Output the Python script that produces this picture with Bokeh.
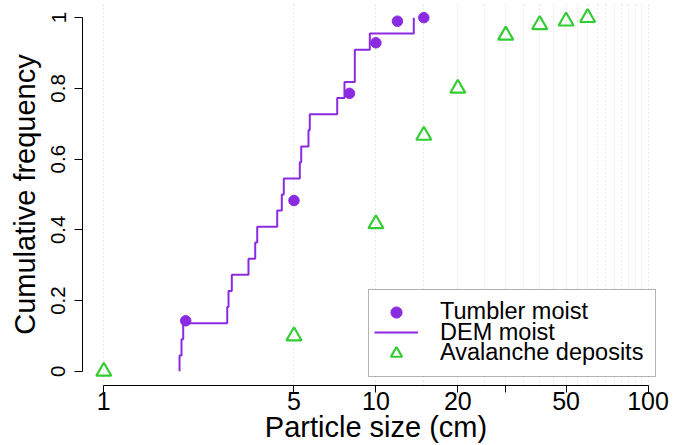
from bokeh.plotting import figure
from bokeh.models import Range1d, FixedTicker, Legend, BoxAnnotation
from bokeh.embed import file_html
from bokeh.resources import INLINE

# ---- data ----
tumbler_size = [2, 5, 8, 10, 12, 15]
tumbler_freq = [0.143, 0.483, 0.786, 0.929, 0.990, 1.0]

dem_size = [1.898, 1.898, 1.930, 1.958, 2.842, 2.873, 2.954, 3.402, 3.601, 3.663,
            4.338, 4.510, 4.587, 5.252, 5.315, 5.652, 5.715, 7.208, 7.665, 8.366,
            8.366, 9.497, 13.78]
dem_freq = [0.0, 0.045, 0.091, 0.136, 0.182, 0.227, 0.273, 0.318, 0.364, 0.409,
            0.455, 0.500, 0.545, 0.591, 0.636, 0.682, 0.727, 0.773, 0.818, 0.864,
            0.909, 0.955, 1.0]

aval_size = [1, 5, 10, 15, 20, 30, 40, 50, 60]
aval_freq = [0.0, 0.1, 0.417, 0.667, 0.8, 0.95, 0.98, 0.99, 1.0]

x_ticks = [1, 5, 10, 20, 30, 50, 100]
x_tick_labels = ["1", "5", "10", "20", "", "50", "100"]
y_ticks = [0, 0.2, 0.4, 0.6, 0.8, 1.0]
y_tick_labels = ["0", "0.2", "0.4", "0.6", "0.8", "1"]
grid_at = [1, 5, 10, 15, 20, 25, 30, 35, 40, 45, 50, 55, 60, 65, 70, 75, 80,
           85, 90, 95, 100]

names = ["Tumbler moist", "DEM moist", "Avalanche deposits"]
x_title = "Particle size (cm)"
y_title = "Cumulative frequency"
purple = "#8A2BE2"
green = "#32CD32"
FONT = "Liberation Sans"

p = figure(width=673, height=445, x_axis_type="log",
           output_backend="svg", toolbar_location=None,
           x_range=Range1d(10 ** -0.0783, 10 ** 2.079),
           y_range=Range1d(-0.04, 1.04),
           min_border_left=82, min_border_right=4,
           min_border_top=3, min_border_bottom=60)
p.outline_line_color = None
p.background_fill_color = "white"
p.border_fill_color = "white"

# grid
p.ygrid.grid_line_color = None
p.xgrid.ticker = FixedTicker(ticks=grid_at)
p.xgrid.grid_line_color = "#D3D3D3"
p.xgrid.grid_line_dash = "1 3"
p.xgrid.grid_line_width = 1

# axes
xa = p.xaxis[0]
xa.ticker = FixedTicker(ticks=x_ticks)
xa.major_label_overrides = {t: s for t, s in zip(x_ticks, x_tick_labels)}
xa.bounds = (1, 100)
xa.axis_label = x_title

ya = p.yaxis[0]
ya.ticker = FixedTicker(ticks=y_ticks)
ya.major_label_overrides = {t: s for t, s in zip(y_ticks, y_tick_labels)}
ya.bounds = (0, 1)
ya.axis_label = y_title
ya.major_label_orientation = "parallel"

for ax in (xa, ya):
    ax.axis_line_color = "black"
    ax.axis_line_width = 1
    ax.major_tick_line_color = "black"
    ax.major_tick_in = 0
    ax.minor_tick_line_color = None
    ax.minor_tick_out = 0
    ax.minor_tick_in = 0
    ax.major_label_text_color = "black"
    ax.major_label_text_font = FONT
    ax.axis_label_text_color = "black"
    ax.axis_label_text_font = FONT
    ax.axis_label_text_font_style = "normal"
    ax.axis_label_text_font_size = "29px"

xa.major_tick_out = 7
xa.major_label_text_font_size = "25px"
xa.major_label_standoff = -1
xa.axis_label_standoff = -2

ya.major_tick_out = 8
ya.major_label_text_font_size = "20.5px"
ya.major_label_standoff = 9
ya.axis_label_standoff = 8

# data
r_tum = p.scatter(tumbler_size, tumbler_freq, size=10.5, marker="circle",
                  fill_color=purple, line_color=purple)
r_dem = p.step(dem_size, dem_freq, mode="after", line_color=purple, line_width=2)
r_ava = p.scatter(aval_size, aval_freq, size=15, marker="triangle",
                  fill_color=None, line_color=green, line_width=2.2)

# legend: framed box + one row per series (rows packed tighter than Bokeh's default)
p.add_layout(BoxAnnotation(left=286, right=573, bottom=9, top=96,
                           left_units="screen", right_units="screen",
                           bottom_units="screen", top_units="screen",
                           fill_color="white", fill_alpha=1.0,
                           line_color="black", line_width=1))
row_centres = [73.5, 52.8, 32.3]
for name, rend, yc in zip(names, [r_tum, r_dem, r_ava], row_centres):
    lg = Legend(items=[(name, [rend])], location=(292, yc - 14), margin=0, padding=0,
                spacing=0, glyph_width=44, glyph_height=28, label_height=28,
                label_standoff=22, label_text_font=FONT, label_text_font_size="23.5px",
                label_text_color="black", border_line_color=None,
                background_fill_alpha=0.0)
    p.add_layout(lg)

open("out.html", "w").write(file_html(p, INLINE))
